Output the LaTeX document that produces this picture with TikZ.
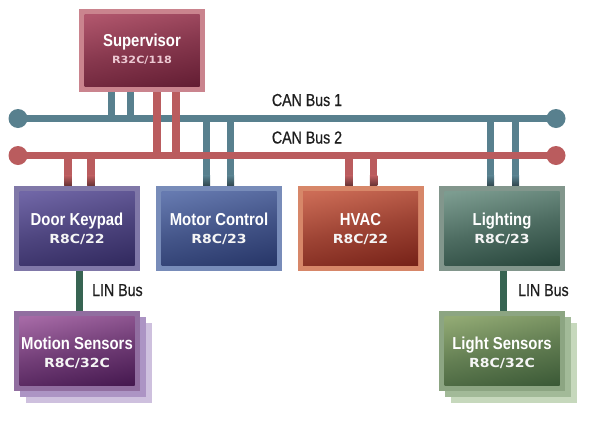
\documentclass[tikz,border=0pt]{standalone}
\usepackage{fontspec}
\newfontfamily\ttlfont[FakeStretch=0.86]{Liberation Sans}
\newfontfamily\lblfont[FakeStretch=0.82,FakeBold=0.6]{Liberation Sans}
\newfontfamily\subfnt[FakeStretch=1.12]{DejaVu Sans}
\definecolor{busblue}{RGB}{88,128,142}
\definecolor{busred}{RGB}{186,92,94}
\definecolor{lingreen}{RGB}{55,100,82}
\definecolor{labeltxt}{RGB}{30,30,30}
\definecolor{supB}{RGB}{202,132,142}\definecolor{supL}{RGB}{176,86,108}\definecolor{supD}{RGB}{100,30,52}
\definecolor{doorB}{RGB}{128,120,168}\definecolor{doorL}{RGB}{112,102,166}\definecolor{doorD}{RGB}{50,42,95}
\definecolor{motB}{RGB}{120,140,185}\definecolor{motL}{RGB}{102,122,176}\definecolor{motD}{RGB}{40,55,105}
\definecolor{hvacB}{RGB}{215,135,105}\definecolor{hvacL}{RGB}{204,108,86}\definecolor{hvacD}{RGB}{120,35,25}
\definecolor{ligB}{RGB}{130,150,140}\definecolor{ligL}{RGB}{124,156,144}\definecolor{ligD}{RGB}{40,70,60}
\definecolor{mosB}{RGB}{145,110,160}\definecolor{mosL}{RGB}{166,106,166}\definecolor{mosD}{RGB}{70,25,80}
\definecolor{mosS1}{RGB}{172,148,196}\definecolor{mosS2}{RGB}{206,192,222}
\definecolor{lsB}{RGB}{140,165,130}\definecolor{lsL}{RGB}{146,170,116}\definecolor{lsD}{RGB}{60,90,55}
\definecolor{lsS1}{RGB}{162,186,152}\definecolor{lsS2}{RGB}{198,216,188}
\definecolor{supsub}{RGB}{236,200,210}
\begin{document}
\begin{tikzpicture}[x=1pt,y=-1pt,
  ecu/.style args={#1/#2/#3}{rectangle, inner sep=0pt, draw=none, fill=#1,
    minimum width=126pt, minimum height=85pt,
    path picture={\shade[top color=#2, bottom color=#3, middle color=#2!45!#3, shading angle=12]
      ([shift={(5.5pt,-5.5pt)}]path picture bounding box.north west) rectangle
      ([shift={(-5.5pt,5.5pt)}]path picture bounding box.south east);}},
  shadowbox/.style={rectangle, inner sep=0pt, draw=none, fill=#1,
    minimum width=126pt, minimum height=80pt},
  ttl/.style={anchor=base, text=white, font=\ttlfont\bfseries\fontsize{17.3}{17}\selectfont, inner sep=0pt},
  sub/.style={anchor=base, text=white!92!gray, font=\subfnt\bfseries\fontsize{12.5}{12.5}\selectfont, inner sep=0pt},
  buslbl/.style={text=labeltxt, font=\lblfont\fontsize{17.3}{17}\selectfont, inner sep=0pt, anchor=base},
  busdot/.style={circle, fill=#1, minimum size=19pt, inner sep=0pt},
  bluebus/.style={draw=busblue, line width=7pt},
  redbus/.style={draw=busred, line width=7.5pt},
  linbus/.style={draw=lingreen, line width=7pt}
]
\useasboundingbox (0,0) rectangle (589,421);

% bus end points
\node[busdot=busblue] (b1L) at (18,118.5) {};
\node[busdot=busblue] (b1R) at (556,118.5) {};
\node[busdot=busred] (b2L) at (18,155.5) {};
\node[busdot=busred] (b2R) at (556,155.5) {};

% boxes
\node[ecu=supB/supL/supD, minimum height=83pt] (sup) at (142,50.5) {};
\node[ecu=doorB/doorL/doorD] (door) at (77,228.5) {};
\node[ecu=motB/motL/motD] (motor) at (219,228.5) {};
\node[ecu=hvacB/hvacL/hvacD] (hvac) at (360.5,228.5) {};
\node[ecu=ligB/ligL/ligD] (light) at (502,228.5) {};

\node[shadowbox=mosS2] (mos2) at (89,363) {};
\node[shadowbox=mosS1] (mos1) at (83,357) {};
\node[ecu=mosB/mosL/mosD, minimum height=80pt] (motion) at (77,351) {};
\node[shadowbox=lsS2] (ls2) at (514,363) {};
\node[shadowbox=lsS1] (ls1) at (508,357) {};
\node[ecu=lsB/lsL/lsD, minimum height=80pt] (lsens) at (502,351) {};

% texts
\node[ttl] (sup-t) at ([yshift=4pt]sup.center) {Supervisor};
\node[sub, text=supsub, font=\subfnt\bfseries\fontsize{10}{10}\selectfont] (sup-s) at ([yshift=-12.5pt]sup.center) {R32C/118};
\node[ttl] (door-t) at ([yshift=3pt]door.center) {Door Keypad};
\node[sub] (door-s) at ([yshift=-15pt]door.center) {R8C/22};
\node[ttl] (motor-t) at ([yshift=3pt]motor.center) {Motor Control};
\node[sub] (motor-s) at ([yshift=-15pt]motor.center) {R8C/23};
\node[ttl] (hvac-t) at ([yshift=3pt]hvac.center) {HVAC};
\node[sub] (hvac-s) at ([yshift=-15pt]hvac.center) {R8C/22};
\node[ttl] (light-t) at ([yshift=3pt]light.center) {Lighting};
\node[sub] (light-s) at ([yshift=-15pt]light.center) {R8C/23};
\node[ttl] (motion-t) at ([yshift=2pt]motion.center) {Motion Sensors};
\node[sub] (motion-s) at ([yshift=-16pt]motion.center) {R8C/32C};
\node[ttl] (lsens-t) at ([yshift=2pt]lsens.center) {Light Sensors};
\node[sub] (lsens-s) at ([yshift=-16pt]lsens.center) {R8C/32C};

% bus labels
\node[buslbl] (can1) at (307,106) {CAN Bus 1};
\node[buslbl] (can2) at (307,143.5) {CAN Bus 2};
\node[buslbl, anchor=base west] (lin1) at (92,296) {LIN Bus};
\node[buslbl, anchor=base west] (lin2) at (518,296) {LIN Bus};

% CAN bus 1 (blue) and its stubs
\draw[bluebus] (b1L.center) -- (b1R.center);
\foreach \n/\dx in {sup/-31, sup/-12} {
  \draw[bluebus] ([xshift=\dx pt]\n.south) -- ([xshift=\dx pt]\n.south |- b1L.center);
}
\foreach \n/\dx in {motor/-12.5, motor/11.5, light/-11.5, light/13.5} {
  \draw[bluebus] ([xshift=\dx pt]\n.north) -- ([xshift=\dx pt]\n.north |- b1L.center);
  \shade[top color=busblue, bottom color=busblue!55!black]
    ([xshift=\dx pt - 3.5pt, yshift=10pt]\n.north) rectangle ([xshift=\dx pt + 3.5pt]\n.north);
}
% CAN bus 2 (red) and its stubs
\foreach \n/\dx in {sup/15, sup/34} {
  \draw[redbus] ([xshift=\dx pt]\n.south) -- ([xshift=\dx pt]\n.south |- b2L.center);
}
\foreach \n/\dx in {door/-9, door/14, hvac/-11.5, hvac/13} {
  \draw[redbus] ([xshift=\dx pt]\n.north) -- ([xshift=\dx pt]\n.north |- b2L.center);
  \shade[top color=busred, bottom color=busred!55!black]
    ([xshift=\dx pt - 3.75pt, yshift=10pt]\n.north) rectangle ([xshift=\dx pt + 3.75pt]\n.north);
}
\draw[redbus] (b2L.center) -- (b2R.center);

% LIN buses
\draw[linbus] ([xshift=2pt]door.south) -- ([xshift=2pt]motion.north);
\draw[linbus] ([xshift=1pt]light.south) -- ([xshift=1pt]lsens.north);
\end{tikzpicture}
\end{document}
